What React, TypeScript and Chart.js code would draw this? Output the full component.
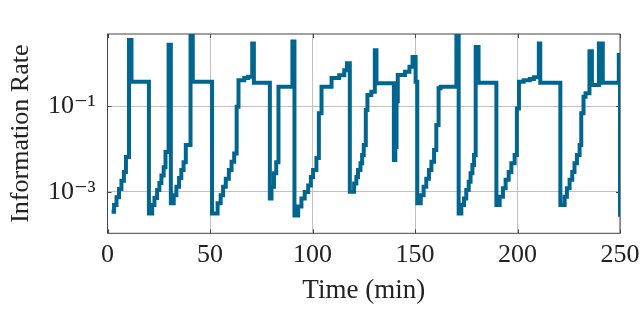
import React, { useEffect, useRef } from 'react';
import { Chart, registerables } from 'chart.js';

Chart.register(...registerables);

// Time (min) at which each value starts (held until the next time)
const times = [
  2.0, 3.2, 4.4, 5.6, 6.8, 8.0, 9.0, 10.5, 11.7,
  20.2, 21.8, 22.9, 24.2, 25.3, 26.3, 27.4, 28.3, 29.8,
  30.9, 32.3, 33.6, 34.9, 36.0, 37.1, 38.2, 40.5, 41.6,
  51.0, 53.7, 55.2, 56.4, 57.7, 59.2, 60.5, 61.8, 63.0, 63.9, 66.7, 68.6, 70.6, 71.4,
  79.2, 80.0, 81.2, 82.3, 83.4, 90.2,
  91.2, 93.0, 94.6, 96.2, 97.9, 99.2, 100.3, 101.9, 103.1, 104.4, 109.3, 113.0, 115.5, 116.8,
  118.2, 120.3, 121.4, 122.2, 123.4, 124.2, 125.0, 126.0, 126.8, 128.7, 130.4, 131.2,
  139.7, 140.4, 141.0, 141.6, 145.1, 147.3, 148.8, 150.3,
  151.1, 152.8, 154.2, 155.5, 156.8, 158.0, 159.3, 160.4, 161.5, 162.5, 170.2,
  171.3, 172.6, 173.9, 175.0, 176.2, 177.1, 178.0, 178.8, 179.6, 181.0,
  189.7, 191.3, 192.9, 194.2, 195.7, 197.0, 198.6, 199.7, 200.7, 203.0, 206.0, 208.0, 210.4, 211.1,
  220.9, 223.0, 224.1, 225.4, 226.7, 227.8, 229.0, 230.3, 231.1, 232.2, 233.2, 235.1, 236.3,
  239.7, 241.6, 249.4, 250.0,
];

// Information rate values
const rates = [
  3.4e-4, 4.9e-4, 7.4e-4, 1.15e-3, 1.8e-3, 2.9e-3, 6.5e-3, 3.5, 0.37,
  3.1e-4, 4.9e-4, 7.1e-4, 1.1e-3, 1.6e-3, 2.4e-3, 3.7e-3, 8.4e-3, 2.7,
  5.4e-4, 8.3e-4, 1.3e-3, 2.1e-3, 3.2e-3, 4.9e-3, 0.0123, 4.6, 0.37,
  3.1e-4, 5.4e-4, 8.3e-4, 1.3e-3, 2.0e-3, 3.2e-3, 5.0e-3, 7.8e-3, 0.096, 0.40, 0.45, 0.48, 2.9, 0.35,
  6.9e-4, 1.3e-3, 2.7e-3, 4.9e-3, 0.28, 3.2,
  2.8e-4, 4.5e-4, 6.9e-4, 9.9e-4, 1.4e-3, 2.2e-3, 3.2e-3, 6.1e-3, 0.068, 0.28, 0.45, 0.52, 0.68, 1.0,
  1.0e-3, 1.55e-3, 2.2e-3, 3.2e-3, 4.6e-3, 7.2e-3, 0.0123, 0.081, 0.18, 0.215, 2.0, 0.34,
  5.5e-3, 0.011, 0.13, 0.53, 0.63, 0.83, 1.4, 0.37,
  5.4e-4, 8.3e-4, 1.3e-3, 2.0e-3, 3.2e-3, 5.0e-3, 9.4e-3, 0.036, 0.26, 0.28, 4.8,
  3.1e-4, 4.9e-4, 6.9e-4, 1.1e-3, 1.7e-3, 2.7e-3, 4.2e-3, 7.2e-3, 2.4, 0.35,
  4.9e-4, 7.6e-4, 1.2e-3, 1.9e-3, 2.9e-3, 4.6e-3, 7.2e-3, 0.088, 0.37, 0.40, 0.43, 0.47, 2.9, 0.35,
  4.9e-4, 7.6e-4, 1.2e-3, 1.9e-3, 2.9e-3, 4.6e-3, 7.2e-3, 0.0123, 0.068, 0.165, 0.2, 1.9, 0.31,
  2.9, 0.35, 1.55, 2.6e-4,
];

const xTickValues = [0, 50, 100, 150, 200, 250];
const yTickValues = [1e-3, 1e-1];
const yTickLabels = ['10⁻³', '10⁻¹'];

const FONT = "'Liberation Serif', 'DejaVu Serif', serif";
const LINE_COLOR = '#00668F';

const framePlugin = {
  id: 'frame',
  beforeDatasetsDraw(chart: any) {
    const { ctx, chartArea: a, scales } = chart;
    ctx.save();
    ctx.strokeStyle = '#444444';
    ctx.lineWidth = 1;
    ctx.beginPath();
    xTickValues.forEach((v) => {
      const px = Math.round(scales.x.getPixelForValue(v)) + 0.5;
      ctx.moveTo(px, a.bottom);
      ctx.lineTo(px, a.bottom - 4);
      ctx.moveTo(px, a.top);
      ctx.lineTo(px, a.top + 4);
    });
    yTickValues.forEach((v) => {
      const py = Math.round(scales.y.getPixelForValue(v)) + 0.5;
      ctx.moveTo(a.left, py);
      ctx.lineTo(a.left + 4, py);
      ctx.moveTo(a.right, py);
      ctx.lineTo(a.right - 4, py);
    });
    ctx.stroke();
    ctx.strokeRect(a.left, a.top, a.right - a.left, a.bottom - a.top);
    ctx.restore();
  },
};

export default function App() {
  const ref = useRef<HTMLCanvasElement | null>(null);

  useEffect(() => {
    if (!ref.current) return;
    const data = times.map((t, i) => ({ x: t, y: rates[i] }));
    const chart = new Chart(ref.current, {
      type: 'line',
      data: {
        datasets: [
          {
            data,
            borderColor: LINE_COLOR,
            borderWidth: 4,
            pointRadius: 0,
            stepped: true,
            fill: false,
            tension: 0,
          },
        ],
      },
      options: {
        animation: false,
        responsive: true,
        maintainAspectRatio: false,
        layout: { padding: { top: 34, right: 20, left: 0, bottom: 0 } },
        plugins: { legend: { display: false }, tooltip: { enabled: false } },
        scales: {
          x: {
            type: 'linear',
            min: 0,
            max: 250,
            afterFit: (s: any) => {
              s.height = 95.7;
              s.paddingLeft = 0;
              s.paddingRight = 0;
            },
            afterBuildTicks: (s: any) => {
              s.ticks = xTickValues.map((v) => ({ value: v }));
            },
            grid: { color: '#c4c0c0', lineWidth: 1, drawTicks: false },
            border: { display: false },
            ticks: {
              color: '#222',
              font: { family: FONT, size: 26 },
              padding: 6,
              maxRotation: 0,
              autoSkip: false,
            },
            title: {
              display: true,
              text: 'Time (min)',
              color: '#222',
              font: { family: FONT, size: 27 },
              padding: { top: 0, bottom: 22 },
            },
          },
          y: {
            type: 'logarithmic',
            min: 1.07e-4,
            max: 4.8,
            afterFit: (s: any) => {
              s.width = 107.5;
              s.paddingTop = 0;
              s.paddingBottom = 0;
            },
            afterBuildTicks: (s: any) => {
              s.ticks = yTickValues.map((v) => ({ value: v }));
            },
            grid: { color: '#c4c0c0', lineWidth: 1, drawTicks: false },
            border: { display: false },
            ticks: {
              color: '#222',
              font: { family: FONT, size: 26 },
              padding: 12,
              autoSkip: false,
              callback: (v: any) => {
                const i = yTickValues.findIndex((t) => Math.abs(t - v) / t < 1e-6);
                return i >= 0 ? yTickLabels[i] : '';
              },
            },
            title: {
              display: true,
              text: 'Information Rate',
              color: '#222',
              font: { family: FONT, size: 26 },
              padding: { top: 6, bottom: 0 },
            },
          },
        },
      },
      plugins: [framePlugin],
    });
    return () => chart.destroy();
  }, []);

  return (
    <div style={{ position: 'absolute', left: 0, top: 0, width: 640, height: 329, background: '#fff' }}>
      <canvas ref={ref} />
    </div>
  );
}
